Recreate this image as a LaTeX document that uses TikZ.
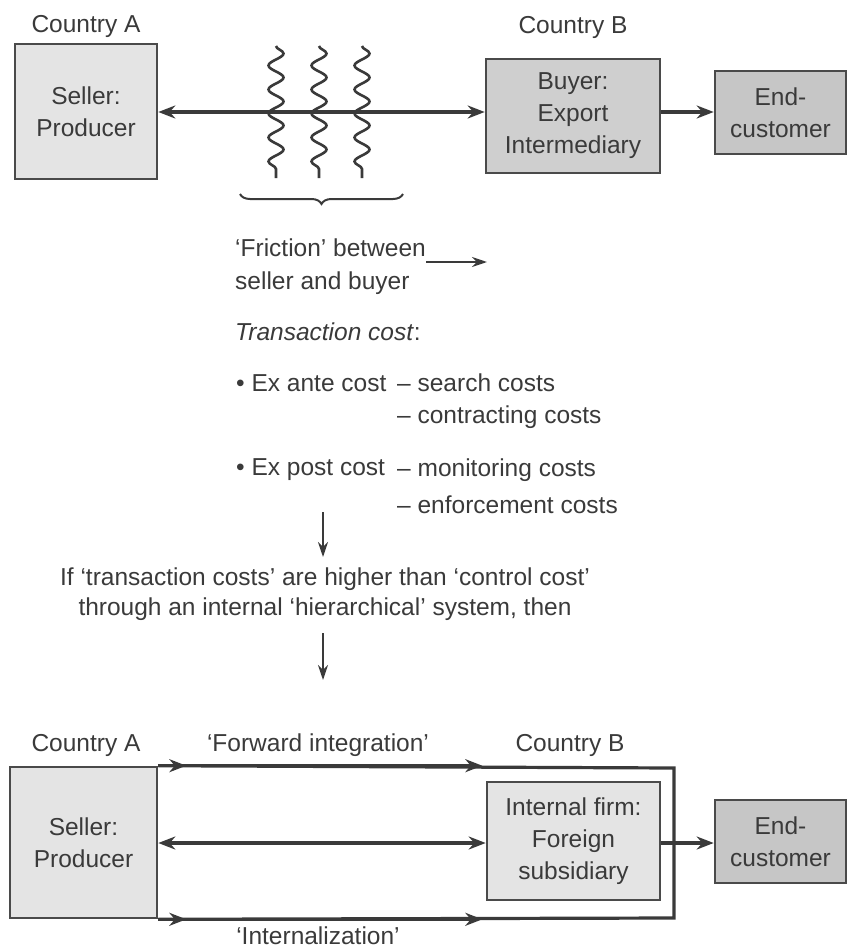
\documentclass[tikz,border=0pt]{standalone}
\usepackage{fontspec}
\setmainfont{Liberation Sans}
\usetikzlibrary{arrows.meta,decorations.pathmorphing,decorations.pathreplacing}

\definecolor{ink}{HTML}{3A3A3A}
\definecolor{edge}{HTML}{4A4A4A}
\definecolor{lightfill}{HTML}{E4E4E4}
\definecolor{midfill}{HTML}{CFCFCF}
\definecolor{darkfill}{HTML}{C6C6C6}

\begin{document}
\begin{tikzpicture}[x=1pt,y=-1pt,
  txt/.style={font=\fontsize{24.5}{32}\selectfont, text=ink, inner sep=0pt},
  box/.style={draw=edge, line width=2.6pt, fill=#1, align=center, inner sep=0pt,
    font=\fontsize{24.5}{32}\selectfont, text=ink},
  conn/.style={draw=ink, line width=3.2pt, -{Stealth[length=17pt,width=13pt]}},
  both/.style={draw=ink, line width=3.2pt, {Stealth[length=17pt,width=13pt]}-{Stealth[length=17pt,width=13pt]}},
  down/.style={draw=ink, line width=2pt, -{Stealth[length=15pt,width=10pt]}},
  wave/.style={draw=ink, line width=2.6pt, decorate,
    decoration={snake, segment length=24pt, amplitude=7.5pt}},
  frame/.style={draw=ink, line width=3.2pt}
]
\useasboundingbox (0,0) rectangle (846,950);

% ---------- market exchange via an export intermediary ----------
\node[txt] (ctyA1) at (86,26) {Country A};
\node[txt] (ctyB1) at (573,27) {Country B};

\node[box=lightfill, minimum width=142pt, minimum height=135pt] (seller1) at (86,111.5) {Seller:\\Producer};
\node[box=midfill, minimum width=174pt, minimum height=114pt] (buyer) at (573,116) {Buyer:\\Export\\Intermediary};
\node[box=darkfill, minimum width=131pt, minimum height=83pt] (end1) at (780.5,112.5) {End-\\customer};

\draw[both] (seller1.east |- 0,112) -- (buyer.west |- 0,112);
\draw[conn] (buyer.east |- 0,112) -- (end1.west |- 0,112);

% friction between the two parties
\foreach \x in {276,319,362}
  \draw[wave] (\x,46) -- (\x,178);
\draw[ink, line width=2pt, decorate,
  decoration={brace, mirror, amplitude=10pt}] (240,194) -- (403,194);

% ---------- transaction costs ----------
\node[txt, anchor=west] (fric1) at (235,248) {‘Friction’ between};
\node[txt, anchor=west] (fric2) at (235,283) {seller and buyer};
\coordinate (fricend) at (487,262);
\draw[ink, line width=2.2pt, -{Stealth[length=15pt,width=10pt]}] (fric1.east |- fricend) -- (fricend);

\node[txt, anchor=west] (tc) at (235,332) {\textit{Transaction cost}:};

\node[txt, anchor=west] (ante) at (236,383) {• Ex ante cost};
\node[txt, anchor=west] (ante1) at (397,383) {– search costs};
\node[txt, anchor=west] (ante2) at (397,417) {– contracting costs};
\node[txt, anchor=west] (post) at (236,470) {• Ex post cost};
\node[txt, anchor=west] (post1) at (397,470) {– monitoring costs};
\node[txt, anchor=west] (post2) at (397,505) {– enforcement costs};

\coordinate (arr1top) at (323,512);
\coordinate (arr1bot) at (323,557);
\draw[down] (arr1top) -- (arr1bot);

\node[txt] (cond1) at (325,579) {If ‘transaction costs’ are higher than ‘control cost’};
\node[txt] (cond2) at (325,609) {through an internal ‘hierarchical’ system, then};

\coordinate (arr2top) at (323,633);
\coordinate (arr2bot) at (323,680);
\draw[down] (arr2top) -- (arr2bot);

% ---------- hierarchical solution: foreign subsidiary ----------
\node[txt] (ctyA2) at (86,745) {Country A};
\node[txt] (fwd) at (318,745) {‘Forward integration’};
\node[txt] (ctyB2) at (570,745) {Country B};

\node[box=lightfill, minimum width=147pt, minimum height=151pt] (seller2) at (83.5,842.5) {Seller:\\Producer};
\node[box=lightfill, minimum width=173pt, minimum height=118pt] (firm) at (573.5,841) {Internal firm:\\Foreign\\subsidiary};
\node[box=darkfill, minimum width=131pt, minimum height=83pt] (end2) at (780.5,841.5) {End-\\customer};

% the integrated firm: frame running from the seller around the subsidiary
\coordinate (frameNE) at (674,768);
\coordinate (frameSE) at (674,918);
\draw[frame, line join=miter] (seller2.north east) -- (frameNE) -- (frameSE) -- (seller2.south east);
\foreach \edgept in {seller2.north east, seller2.south east}{
  \draw[conn] (\edgept) -- ++(28,0);
  \draw[conn] (\edgept) -- ++(324,0);
}

\draw[both] (seller2.east |- 0,843) -- (firm.west |- 0,843);
\draw[conn] (firm.east |- 0,843) -- (end2.west |- 0,843);

\node[txt] (intern) at (318,936) {‘Internalization’};
\end{tikzpicture}
\end{document}
